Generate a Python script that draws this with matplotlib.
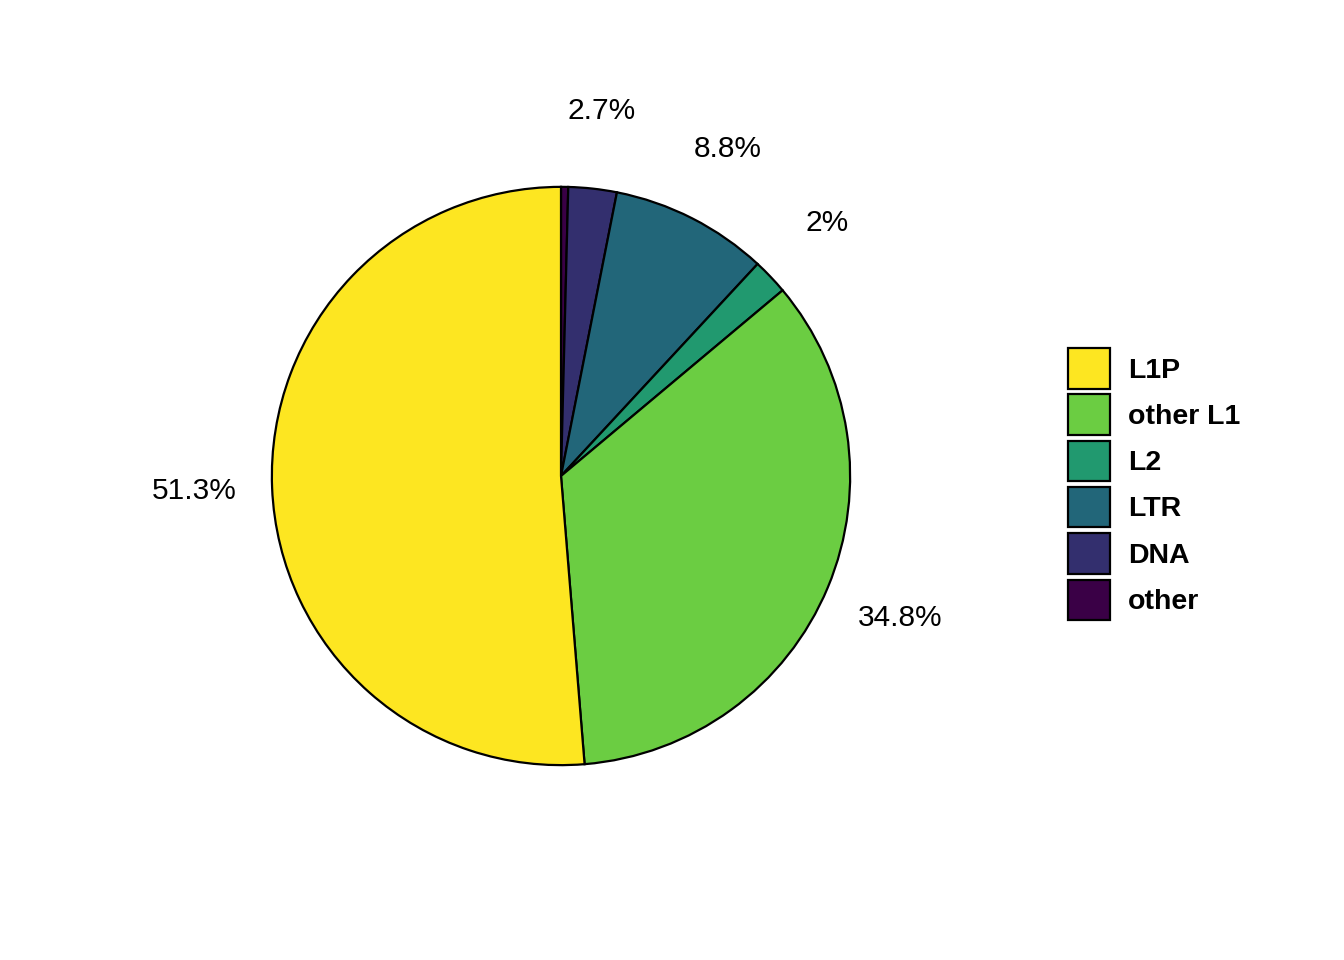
import matplotlib
matplotlib.use('Agg')
import matplotlib.pyplot as plt
from matplotlib.patches import Patch

# slices in drawing order, clockwise from 12 o'clock
categories = ['other', 'DNA', 'LTR', 'L2', 'other L1', 'L1P']
values = [0.4, 2.7, 8.8, 2.0, 34.8, 51.3]
pct_labels = ['', '2.7%', '8.8%', '2%', '34.8%', '51.3%']
colors = ['#3A0046', '#332F6E', '#226679', '#21996F', '#6BCD42', '#FDE621']

# legend order (top to bottom)
legend_order = ['L1P', 'other L1', 'L2', 'LTR', 'DNA', 'other']

plt.rcParams['font.family'] = ['Liberation Sans', 'DejaVu Sans']

fig = plt.figure(figsize=(13.44, 9.6), dpi=100)
ax = fig.add_axes([271 / 1344, (960 - 476 - 290) / 960, 580 / 1344, 580 / 960])

wedges, texts = ax.pie(values, labels=pct_labels, colors=colors, startangle=90,
                       counterclock=False, labeldistance=1.27,
                       wedgeprops=dict(edgecolor='black', linewidth=1.6),
                       textprops=dict(fontsize=21.5, color='black'))
for t in texts:
    t.set_ha('center')
    t.set_va('center')
ax.set_xlim(-1.003, 1.003)
ax.set_ylim(-1.003, 1.003)
ax.axis('off')

color_map = dict(zip(categories, colors))
handles = [Patch(facecolor=color_map[c], edgecolor='black', linewidth=1.6) for c in legend_order]
fig.legend(handles, legend_order, loc='center left', bbox_to_anchor=(1068 / 1344, 0.4958),
           frameon=False, prop=dict(size=20.5, weight='bold'),
           handlelength=1.48, handleheight=1.8, labelspacing=0.21,
           handletextpad=0.62, borderaxespad=0, borderpad=0)

fig.savefig('out.png', dpi=100, facecolor='white')
